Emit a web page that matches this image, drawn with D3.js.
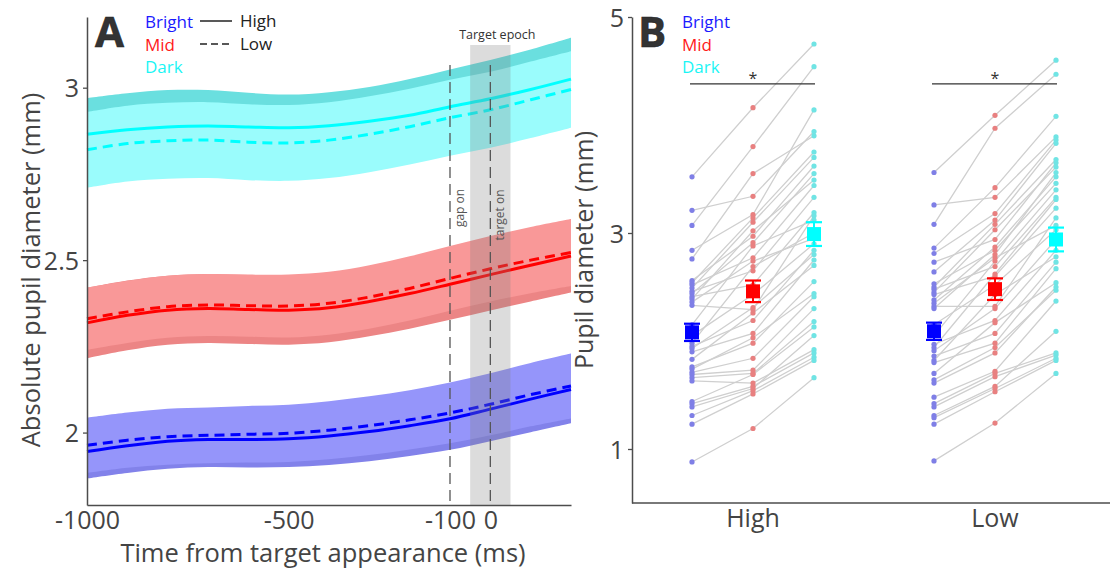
<!DOCTYPE html>
<html><head><meta charset="utf-8">
<script src="https://cdn.jsdelivr.net/npm/d3@7"></script>
<style>
body{margin:0;background:#fff;}
text{font-family:"Open Sans","Noto Sans",sans-serif;}
</style></head>
<body><svg id="c" width="1110" height="572"></svg>
<script>
// ---------- Panel A data ----------
const times = [-1000,-900,-800,-700,-600,-500,-400,-300,-200,-100,0,100,200];
const brightHighMean = [1.945,1.962,1.975,1.980,1.980,1.982,1.990,2.003,2.020,2.040,2.068,2.097,2.125];
const brightLowMean  = [1.963,1.978,1.988,1.992,1.995,1.998,2.007,2.020,2.037,2.057,2.082,2.110,2.135];
const midHighMean    = [2.318,2.340,2.355,2.360,2.357,2.355,2.362,2.380,2.403,2.430,2.458,2.485,2.512];
const midLowMean     = [2.330,2.350,2.365,2.370,2.368,2.367,2.375,2.393,2.418,2.447,2.475,2.500,2.522];
const darkHighMean   = [2.865,2.878,2.886,2.889,2.886,2.884,2.890,2.903,2.920,2.945,2.968,2.995,3.025];
const darkLowMean    = [2.820,2.838,2.846,2.848,2.842,2.840,2.848,2.865,2.887,2.913,2.936,2.965,2.995];
const brightHighSE = [0.078,0.079,0.080,0.080,0.081,0.082,0.084,0.086,0.088,0.090,0.093,0.096,0.098];
const brightLowSE  = [0.080,0.080,0.081,0.081,0.082,0.083,0.084,0.085,0.086,0.088,0.090,0.092,0.094];
const midHighSE    = [0.102,0.101,0.100,0.100,0.100,0.100,0.100,0.101,0.102,0.103,0.104,0.105,0.106];
const midLowSE     = [0.090,0.090,0.090,0.090,0.090,0.091,0.091,0.092,0.093,0.094,0.095,0.096,0.097];
const darkHighSE   = [0.105,0.106,0.107,0.104,0.099,0.096,0.097,0.099,0.105,0.108,0.112,0.116,0.120];
const darkLowSE    = [0.110,0.110,0.110,0.110,0.110,0.110,0.110,0.110,0.110,0.110,0.110,0.111,0.111];
const epochBand = [-50, 50];
const eventTimes = [-100, 0];
const eventLabels = ["gap on", "target on"];
const xTicksA = [-1000,-500,-100,0];
const yTicksA = [2,2.5,3];

// ---------- Panel B data ----------
const conditions = ["High","Low"];
const levels = ["Bright","Mid","Dark"];
const brightHigh = [3.52,3.21,3.07,2.84,2.76,2.56,2.54,2.52,2.49,2.46,2.44,2.41,2.39,2.36,2.33,2.15,2.05,1.98,1.95,1.93,1.90,1.83,1.76,1.74,1.71,1.69,1.66,1.63,1.44,1.42,1.39,1.31,1.23,0.88];
const midHigh    = [4.16,3.34,3.80,3.17,3.55,2.97,3.14,2.77,3.10,2.65,2.91,2.52,3.02,2.74,2.29,2.88,2.43,2.69,2.19,2.31,2.07,2.26,1.98,2.03,1.84,1.73,1.70,1.61,1.69,1.58,1.56,1.54,1.51,1.19];
const darkHigh   = [4.75,3.94,4.54,4.14,3.90,3.62,3.75,3.44,3.70,3.33,3.55,3.19,3.49,2.95,3.16,3.12,2.90,3.00,2.84,2.80,2.75,2.70,2.55,2.44,2.41,2.30,2.18,1.92,2.13,1.89,2.05,1.85,1.82,1.66];
const brightLow  = [3.56,3.26,3.08,2.86,2.81,2.73,2.64,2.53,2.50,2.48,2.45,2.43,2.38,2.35,2.32,2.30,2.15,2.05,1.97,1.94,1.91,1.86,1.82,1.80,1.70,1.64,1.61,1.48,1.42,1.39,1.31,1.29,1.23,0.89];
const midLow     = [4.09,3.33,3.97,3.42,3.18,2.94,3.12,2.84,3.08,2.69,3.03,2.60,2.87,2.77,2.32,2.80,2.52,2.74,2.19,2.62,2.30,2.07,2.43,1.98,2.17,1.94,1.89,1.72,1.70,1.67,1.58,1.56,1.53,1.24];
const darkLow    = [4.60,3.89,4.47,4.08,3.86,3.65,3.83,3.46,3.68,3.33,3.61,3.23,3.52,3.07,3.14,3.56,3.03,3.40,2.84,3.31,2.94,2.73,2.78,2.67,2.54,2.47,2.50,2.37,1.89,1.87,2.09,1.84,1.82,1.70];
const meanHigh = [2.08,2.46,2.99];
const semHigh  = [0.08,0.10,0.11];
const meanLow  = [2.09,2.48,2.94];
const semLow   = [0.08,0.10,0.11];
const sigY = 4.38;
const yTicksB = [1,3,5];

// ---------- styles ----------
const lineCol = {Bright:"#0000ff", Mid:"#ff0000", Dark:"#00ffff"};
const bandHighCol = {Bright:"#8282ea", Mid:"#ec8585", Dark:"#6adfdf"};
const bandLowCol  = {Bright:"#9595fa", Mid:"#f99898", Dark:"#9afcfc"};
const dotCol = {Bright:"#7f7fe6", Mid:"#e88080", Dark:"#70e4e4"};
const legendCol = {Bright:"#1a1aff", Mid:"#ff1a1a", Dark:"#1af5f5"};
const axisCol = "#4d4d4d";
const fmt = d => String(d);

const svg = d3.select("#c");

// ================= Panel A =================
const xA = d3.scaleLinear().domain([-1000,200]).range([87,571]);
const yA = d3.scaleLinear().domain([1.79,3.205]).range([505,17]);
const gA = svg.append("g");

const seriesA = [
  {lvl:"Dark", hm:darkHighMean, hs:darkHighSE, lm:darkLowMean, ls:darkLowSE},
  {lvl:"Mid", hm:midHighMean, hs:midHighSE, lm:midLowMean, ls:midLowSE},
  {lvl:"Bright", hm:brightHighMean, hs:brightHighSE, lm:brightLowMean, ls:brightLowSE}
];
const area = d3.area().curve(d3.curveCatmullRom)
  .x(d=>xA(d.t)).y0(d=>yA(d.lo)).y1(d=>yA(d.hi));
const line = d3.line().curve(d3.curveCatmullRom).x(d=>xA(d.t)).y(d=>yA(d.v));

seriesA.forEach(s=>{
  const hb = times.map((t,i)=>({t, lo:s.hm[i]-s.hs[i], hi:s.hm[i]+s.hs[i]}));
  const lb = times.map((t,i)=>({t, lo:s.lm[i]-s.ls[i], hi:s.lm[i]+s.ls[i]}));
  gA.append("path").attr("d",area(hb)).attr("fill",bandHighCol[s.lvl]);
  gA.append("path").attr("d",area(lb)).attr("fill",bandLowCol[s.lvl]);
});
seriesA.forEach(s=>{
  gA.append("path").attr("d",line(times.map((t,i)=>({t,v:s.hm[i]}))))
    .attr("fill","none").attr("stroke",lineCol[s.lvl]).attr("stroke-width",3);
  gA.append("path").attr("d",line(times.map((t,i)=>({t,v:s.lm[i]}))))
    .attr("fill","none").attr("stroke",lineCol[s.lvl]).attr("stroke-width",3)
    .attr("stroke-dasharray","10,6");
});
// epoch band
gA.append("rect").attr("x",xA(epochBand[0])).attr("width",xA(epochBand[1])-xA(epochBand[0]))
  .attr("y",45).attr("height",505-45).attr("fill","rgba(128,128,128,0.28)");
gA.append("text").attr("x",xA(0)+7).attr("y",39).attr("text-anchor","middle")
  .attr("font-size",12.5).attr("fill","#333").text("Target epoch");
eventTimes.forEach((t,i)=>{
  gA.append("line").attr("x1",xA(t)).attr("x2",xA(t)).attr("y1",65).attr("y2",505)
    .attr("stroke","#555").attr("stroke-width",1.3).attr("stroke-dasharray","11,6");
  gA.append("text").attr("transform",`translate(${xA(t)+14},${i===0?208:215}) rotate(-90)`)
    .attr("text-anchor","middle").attr("font-size",12).attr("fill","#555").text(eventLabels[i]);
});
// axes
const axA_y = gA.append("g").attr("transform","translate(87,0)")
  .call(d3.axisLeft(yA).tickValues(yTicksA).tickFormat(fmt).tickSize(4).tickSizeOuter(0));
const axA_x = gA.append("g").attr("transform","translate(0,505)")
  .call(d3.axisBottom(xA).tickValues(xTicksA).tickFormat(fmt).tickSize(0).tickPadding(6).tickSizeOuter(0));
[axA_y, axA_x].forEach(a=>{
  a.select(".domain").attr("stroke",axisCol).attr("stroke-width",1.5);
  a.selectAll(".tick line").attr("stroke",axisCol).attr("stroke-width",1.3);
  a.selectAll(".tick text").attr("fill","#444").attr("font-size",25)
   .attr("font-family","'Open Sans',sans-serif");
});
axA_y.selectAll(".tick text").attr("dx","-1").attr("dy","0.36em");
axA_x.selectAll(".tick text").attr("dy","0.72em");
gA.append("text").attr("transform","translate(40,270) rotate(-90)").attr("text-anchor","middle")
  .attr("font-size",25.5).attr("fill","#444").text("Absolute pupil diameter (mm)");
gA.append("text").attr("x",323).attr("y",562).attr("text-anchor","middle")
  .attr("font-size",25.5).attr("fill","#444").text("Time from target appearance (ms)");
// legend A
gA.append("text").attr("x",95).attr("y",47).attr("font-size",42).attr("font-weight","bold")
  .attr("fill","#333").attr("stroke","#222").attr("stroke-width",0.6).text("A");
levels.forEach((l,i)=>{
  gA.append("text").attr("x",145).attr("y",28+i*22.5).attr("font-size",17)
    .attr("fill",legendCol[l]).text(l);
});
[["High",null],["Low","10,6"]].forEach((d,i)=>{
  const yy = 21+i*23;
  gA.append("line").attr("x1",200).attr("x2",232).attr("y1",yy).attr("y2",yy)
    .attr("stroke","#222").attr("stroke-width",1.5).attr("stroke-dasharray",d[1]?"7,4":null);
  gA.append("text").attr("x",240).attr("y",yy+6).attr("font-size",17).attr("fill","#222").text(d[0]);
});

// ================= Panel B =================
const xB = d3.scaleBand().domain(conditions).range([632,1116]);
const xOff = d3.scalePoint().domain(levels).range([-61,61]);
const yB = d3.scaleLinear().domain([0.5,5]).range([503,17]);
const gB = svg.append("g");
const px = (c,l)=>xB(c)+xB.bandwidth()/2+xOff(l);

const subj = {
  High:{Bright:brightHigh, Mid:midHigh, Dark:darkHigh},
  Low:{Bright:brightLow, Mid:midLow, Dark:darkLow}
};
conditions.forEach(c=>{
  const d = subj[c];
  d.Bright.forEach((v,i)=>{
    const pts = levels.map(l=>[px(c,l), yB(d[l][i])]);
    gB.append("path").attr("d",d3.line()(pts)).attr("fill","none")
      .attr("stroke","#cfcfcf").attr("stroke-width",1.3);
  });
});
conditions.forEach(c=>{
  const d = subj[c];
  levels.forEach(l=>{
    gB.selectAll(null).data(d[l]).enter().append("circle")
      .attr("cx",px(c,l)).attr("cy",v=>yB(v)).attr("r",2.6).attr("fill",dotCol[l]);
  });
});
// means
const meansB = {High:[meanHigh,semHigh], Low:[meanLow,semLow]};
conditions.forEach(c=>{
  const [m,s] = meansB[c];
  levels.forEach((l,i)=>{
    const x = px(c,l);
    const col = lineCol[l];
    gB.append("line").attr("x1",x).attr("x2",x).attr("y1",yB(m[i]-s[i])).attr("y2",yB(m[i]+s[i]))
      .attr("stroke",col).attr("stroke-width",2);
    [m[i]-s[i], m[i]+s[i]].forEach(v=>{
      gB.append("line").attr("x1",x-8).attr("x2",x+8).attr("y1",yB(v)).attr("y2",yB(v))
        .attr("stroke",col).attr("stroke-width",2.2);
    });
    gB.append("rect").attr("x",x-7).attr("y",yB(m[i])-7).attr("width",14).attr("height",14)
      .attr("fill",col);
  });
  // significance
  gB.append("line").attr("x1",px(c,"Bright")-2).attr("x2",px(c,"Dark")+1)
    .attr("y1",yB(sigY)).attr("y2",yB(sigY)).attr("stroke","#333").attr("stroke-width",1.2);
  gB.append("text").attr("x",px(c,"Mid")).attr("y",yB(sigY)).attr("text-anchor","middle")
    .attr("font-size",16).attr("fill","#333").text("*");
});
// axes B
const axB_y = gB.append("g").attr("transform","translate(632,0)")
  .call(d3.axisLeft(yB).tickValues(yTicksB).tickFormat(fmt).tickSize(4).tickSizeOuter(0));
const axB_x = gB.append("g").attr("transform","translate(0,503)")
  .call(d3.axisBottom(xB).tickSize(0).tickPadding(6).tickSizeOuter(0));
axB_x.select(".domain").attr("d","M632,0H1110");
[axB_y, axB_x].forEach(a=>{
  a.select(".domain").attr("stroke",axisCol).attr("stroke-width",1.5);
  a.selectAll(".tick line").attr("stroke",axisCol).attr("stroke-width",1.3);
  a.selectAll(".tick text").attr("fill","#444").attr("font-size",25)
   .attr("font-family","'Open Sans',sans-serif");
});
axB_y.selectAll(".tick text").attr("dx","-1").attr("dy","0.36em");
axB_x.selectAll(".tick text").attr("dy","0.72em");
gB.append("text").attr("transform","translate(593,250) rotate(-90)").attr("text-anchor","middle")
  .attr("font-size",25).attr("fill","#444").text("Pupil diameter (mm)");
gB.append("text").attr("x",638).attr("y",47).attr("font-size",42).attr("font-weight","bold")
  .attr("fill","#333").attr("stroke","#222").attr("stroke-width",0.6).text("B");
levels.forEach((l,i)=>{
  gB.append("text").attr("x",682).attr("y",28+i*22.5).attr("font-size",17)
    .attr("fill",legendCol[l]).text(l);
});
</script></body></html>
